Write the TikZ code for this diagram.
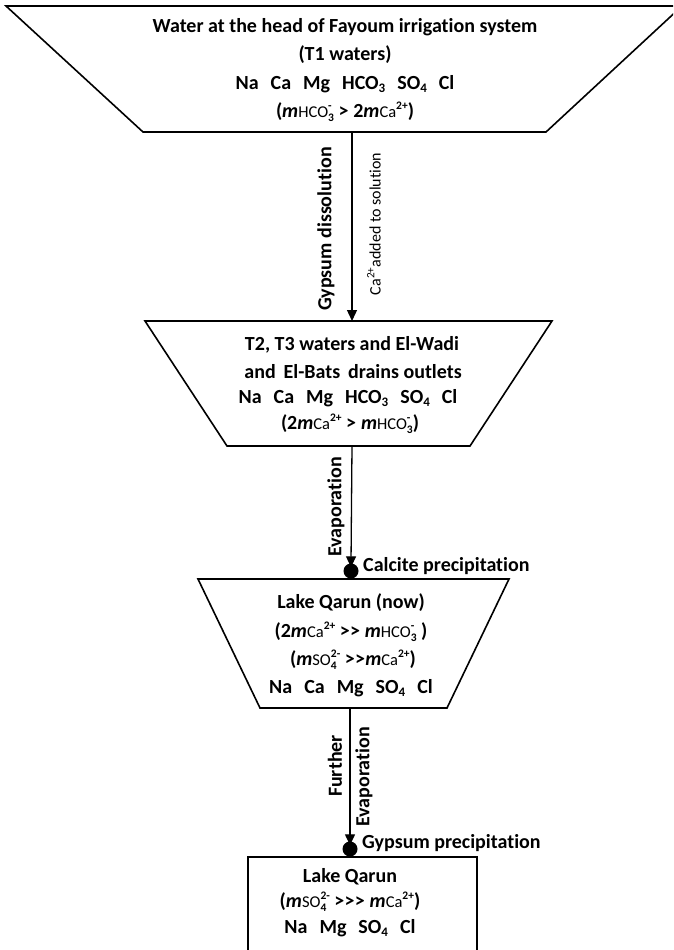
\documentclass[tikz,border=0pt]{standalone}
\usepackage{fontspec}
\setmainfont{Carlito}[Ligatures={NoCommon}]
\usetikzlibrary{arrows.meta}
\newsavebox\subbox
\newsavebox\supbox
\newcommand{\ssz}{\fontsize{11.5}{12}\selectfont}
\newcommand{\subsup}[2]{\sbox\subbox{\ssz #1}\sbox\supbox{\ssz #2}%
  \ifdim\wd\subbox>\wd\supbox\rlap{\raisebox{0.85ex}{\usebox\supbox}}\raisebox{-0.4ex}{\usebox\subbox}%
  \else\rlap{\raisebox{-0.4ex}{\usebox\subbox}}\raisebox{0.85ex}{\usebox\supbox}\fi}
\newcommand{\mi}{\textit{m}}
\newcommand{\rg}[1]{\textmd{\fontsize{16.5}{17}\selectfont #1}}
\newcommand{\ionsub}[1]{\raisebox{-0.35ex}{\fontsize{13}{13}\selectfont #1}}
\newcommand{\sep}{\hspace{0.6em}}
\newcommand{\gtr}{\mbox{\char`>}\kern0.3pt}
\begin{document}
\begin{tikzpicture}[x=1pt,y=-1pt,
  shapeline/.style={line width=1.6pt, line join=miter},
  txt/.style={font=\bfseries\fontsize{20}{24}\selectfont, inner sep=0pt, anchor=center},
  lbl/.style={font=\bfseries\fontsize{20}{24}\selectfont, inner sep=0pt},
  small/.style={font=\fontsize{16}{18}\selectfont, inner sep=0pt},
  flow/.style={-{Triangle[width=10pt,length=11pt]}, line width=1.3pt},
  dot/.style={circle, fill=black, inner sep=0pt, minimum size=15pt}]
\useasboundingbox (0,0) rectangle (673,950);
\clip (0,0) rectangle (673,950);

% shapes
\draw[shapeline] (6,6) -- (143,132) -- (546,132) -- (682,6) -- cycle;
\draw[shapeline] (145,321) -- (227,446) -- (470,446) -- (552,321) -- cycle;
\draw[shapeline] (198,579) -- (260,708) -- (447,708) -- (509,579) -- cycle;
\draw[shapeline] (248,970) -- (248,857) -- (477,857) -- (477,970);

\coordinate (t1b) at (352,132);
\coordinate (t2t) at (352,321);
\coordinate (t2b) at (352,446);
\coordinate (t3b) at (350,708);

% texts box 1
\node[txt] (a1) at (345,27) {Water at the head of Fayoum irrigation system};
\node[txt] (a2) at (345,55) {(T1 waters)};
\node[txt] (a3) at (345,84) {Na\sep Ca\sep Mg\sep HCO\ionsub{3}\sep SO\ionsub{4}\sep Cl};
\node[txt] (a4) at (345,112) {(\mi\rg{HCO}\subsup{3}{-} \gtr{} 2\mi\rg{Ca}\subsup{}{2+})};

% box 2
\node[txt] (b1) at (352,345) {T2, T3 waters and El-Wadi};
\node[txt] (b2) at (353,372) {and\, El-Bats\, drains outlets};
\node[txt] (b3) at (348,398) {Na\sep Ca\sep Mg\sep HCO\ionsub{3}\sep SO\ionsub{4}\sep Cl};
\node[txt] (b4) at (350,424) {(2\mi\rg{Ca}\subsup{}{2+} \gtr{} \mi\rg{HCO}\subsup{3}{-})};

% box 3
\node[txt] (c1) at (351,603) {Lake Qarun (now)};
\node[txt] (c2) at (351,632) {(2\mi\rg{Ca}\subsup{}{2+} \gtr\gtr{} \mi\rg{HCO}\subsup{3}{-} )};
\node[txt] (c3) at (353,660) {(\mi\rg{SO}\subsup{4}{2-} \gtr\gtr\mi\rg{Ca}\subsup{}{2+})};
\node[txt] (c4) at (351,688) {Na\sep Ca\sep Mg\sep SO\ionsub{4}\sep Cl};

% box 4
\node[txt] (e1) at (350,877) {Lake Qarun};
\node[txt] (e2) at (350,902) {(\mi\rg{SO}\subsup{4}{2-} \gtr\gtr\gtr{} \mi\rg{Ca}\subsup{}{2+})};
\node[txt] (e3) at (350,928) {Na\sep Mg\sep SO\ionsub{4}\sep Cl};

% dots
\node[dot] (d1) at (351,571) {};
\node[dot] (d2) at (350,849) {};

% arrows
\draw[flow] (t1b) -- (t2t);
\draw[flow, shorten >=-4pt] (t2b) -- (d1.north);
\draw[flow, shorten >=-4pt] (t3b) -- (d2.north);

% arrow labels
\node[lbl, rotate=90] (l1) at (326,229) {Gypsum dissolution};
\node[small, rotate=90] (l2) at (374,224) {Ca\textsuperscript{2+}added to solution};
\node[lbl, rotate=90] (l3) at (336,507) {Evaporation};
\node[lbl, anchor=west] (l4) at (363,566) {Calcite precipitation};
\node[lbl, rotate=90] (l5) at (335,766) {Further};
\node[lbl, rotate=90] (l6) at (364,777) {Evaporation};
\node[lbl, anchor=west] (l7) at (362,843) {Gypsum precipitation};
\end{tikzpicture}
\end{document}
